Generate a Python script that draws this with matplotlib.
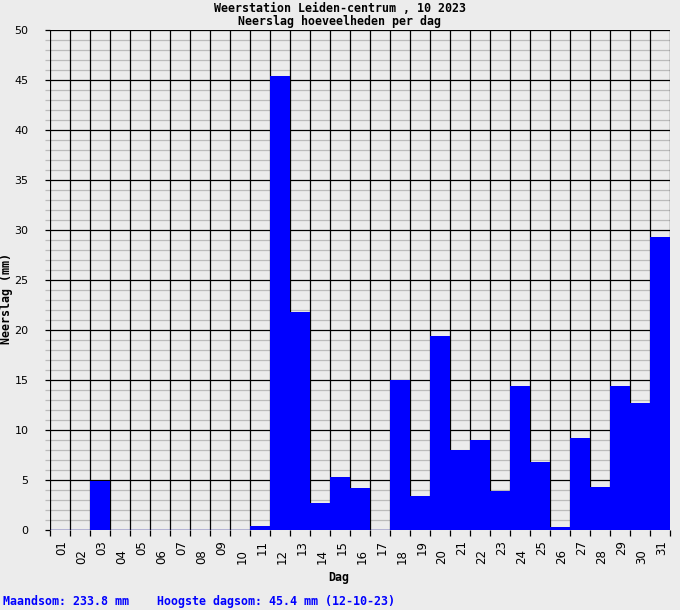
import numpy as np
import matplotlib
matplotlib.use('Agg')
import matplotlib.pyplot as plt
from matplotlib.transforms import blended_transform_factory

############################################################################
#                               Data
############################################################################

days = ['01', '02', '03', '04', '05', '06', '07', '08', '09', '10',
        '11', '12', '13', '14', '15', '16', '17', '18', '19', '20',
        '21', '22', '23', '24', '25', '26', '27', '28', '29', '30', '31']

rain = [0.0, 0.0, 4.9, 0.0, 0.0, 0.0, 0.0, 0.0, 0.0, 0.0,
        0.4, 45.4, 21.8, 2.7, 5.3, 4.2, 0.0, 15.0, 3.4, 19.4,
        8.0, 9.0, 3.9, 14.4, 6.8, 0.3, 9.2, 4.3, 14.4, 12.7, 29.3]

title_txt  = 'Weerstation Leiden-centrum , 10 2023\nNeerslag hoeveelheden per dag'
footer_txt = 'Maandsom: 233.8 mm    Hoogste dagsom: 45.4 mm (12-10-23)'

############################################################################
#                               Plot
############################################################################

bg   = '#ececec'
mono = 'DejaVu Sans Mono'
lw   = 0.9

fig = plt.figure(figsize=(6.8, 6.1), dpi=100, facecolor=bg)
ax  = fig.add_axes([50/680, 80/610, 620/680, 500/610], facecolor=bg)

x = np.arange(len(days))

# grid: minor gray every 1 mm, major black every 5 mm, black at day edges
for v in range(0, 51):
    if v % 5 == 0:
        continue
    ax.axhline(v, color='#bbbbbb', lw=lw, zorder=1)
for v in range(0, 51, 5):
    ax.axhline(v, color='black', lw=lw, zorder=2)
for d in range(0, len(days) + 1):
    ax.axvline(d, color='black', lw=lw, zorder=2)

ax.bar(x, rain, width=1.0, align='edge', color='#0000ff', lw=0, zorder=3)
ax.plot([0, len(days)], [0, 0], color='#0000ff', lw=lw, zorder=4)

ax.set_xlim(0, len(days))
ax.set_ylim(0, 50)
for s in ax.spines.values():
    s.set_visible(False)

# y ticks: small marks left of axis, also for minor lines
ax.set_yticks(np.arange(0, 51, 5))
ax.set_yticks(np.arange(0, 51, 1), minor=True)
ax.tick_params(axis='y', which='major', length=5*0.72, width=lw, color='black',
               pad=12, labelsize=8)
ax.tick_params(axis='y', which='minor', length=5*0.72, width=lw, color='#bbbbbb')

# x ticks at day edges, labels staggered in the middle of each day
ax.set_xticks(np.arange(0, len(days) + 1))
ax.set_xticklabels([])
ax.tick_params(axis='x', which='major', length=6*0.72, width=lw, color='black')

trans = blended_transform_factory(ax.transData, ax.transAxes)
for i, lab in enumerate(days):
    yoff = -10/500 if i % 2 == 0 else -19/500
    ax.text(i + 0.6, yoff, lab, rotation=90, ha='center', va='top',
            fontsize=8.5, transform=trans)

fig.text(340/680, 1 - 2/610, title_txt, ha='center', va='top',
         family=mono, weight='bold', fontsize=8.4, linespacing=0.95)
fig.text(7/680, 1 - 299/610, 'Neerslag (mm)', rotation=90, ha='center',
         va='center', family=mono, weight='bold', fontsize=8.4)
fig.text(339/680, 1 - 577/610, 'Dag', ha='center', va='center',
         family=mono, weight='bold', fontsize=8.4)
fig.text(3/680, 1 - 602/610, footer_txt, ha='left', va='center',
         family=mono, weight='bold', fontsize=8.4, color='#0000ff')

fig.savefig('out.png', dpi=100, facecolor=bg)
